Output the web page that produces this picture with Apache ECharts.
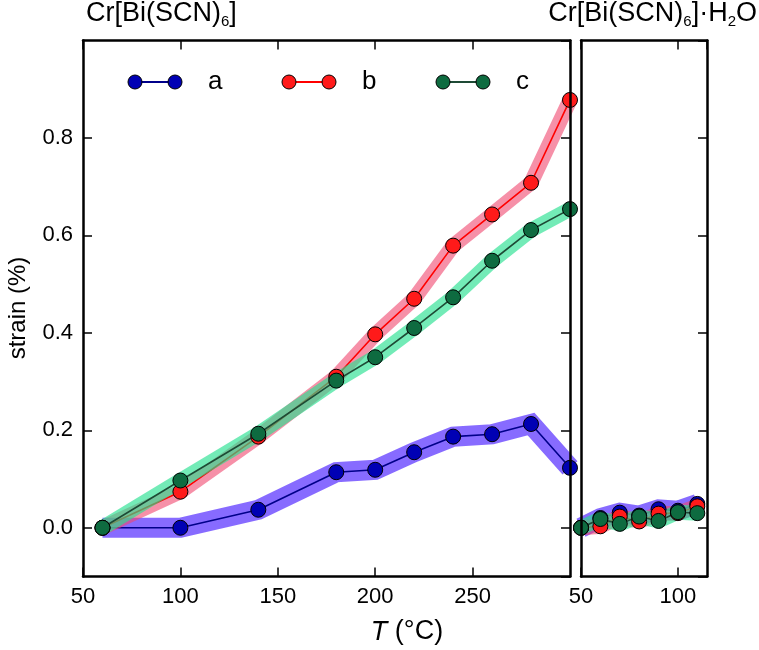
<!DOCTYPE html>
<html>
<head>
<meta charset="utf-8">
<script src="https://cdn.jsdelivr.net/npm/echarts@6/dist/echarts.min.js"></script>
<style>html,body{margin:0;padding:0;background:#fff}#c{width:759px;height:650px}</style>
</head>
<body>
<div id="c"></div>
<script>
// ---- data ----
const seriesNames = ['a', 'b', 'c'];
const T_left = [60, 100, 140, 180, 200, 220, 240, 260, 280, 300];
const a_left = [0, 0, 0.037, 0.114, 0.119, 0.155, 0.187, 0.192, 0.213, 0.123];
const b_left = [0, 0.074, 0.187, 0.31, 0.397, 0.47, 0.579, 0.643, 0.708, 0.878];
const c_left = [0, 0.097, 0.193, 0.302, 0.35, 0.41, 0.473, 0.548, 0.611, 0.654];
const T_right = [50, 60, 70, 80, 90, 100, 110];
const a_right = [0, 0.02, 0.031, 0.025, 0.038, 0.035, 0.049];
const b_right = [0, 0.003, 0.023, 0.013, 0.029, 0.03, 0.044];
const c_right = [0, 0.018, 0.008, 0.023, 0.014, 0.032, 0.03];
const titleLeft = ['Cr[Bi(SCN)', '6', ']'];
const titleRight = ['Cr[Bi(SCN)', '6', ']·H', '2', 'O'];
const yName = 'strain (%)';

// ---- styles ----
const FONT = '"Liberation Sans", Arial, Helvetica, sans-serif';
const markerColors = ['#0000b4', '#ff1a1a', '#0e6b40'];
const lineColors = ['#00008a', '#ff0000', '#1e4a35'];
const bandColors = ['rgba(105,70,255,0.8)', 'rgba(240,70,110,0.6)', 'rgba(40,225,145,0.65)'];
const bandWidths = [20, 15, 15];

function pairs(xs, ys) { return xs.map((x, i) => [x, ys[i]]); }
const leftData = [a_left, b_left, c_left];
const rightData = [a_right, b_right, c_right];

const series = [];
function addPanel(xs, dataSets, axisIdx) {
  dataSets.forEach((ys, k) => {
    series.push({
      type: 'line', name: seriesNames[k] + '_band', xAxisIndex: axisIdx, yAxisIndex: axisIdx,
      data: pairs(xs, ys), symbol: 'none', silent: true, clip: true,
      lineStyle: { color: bandColors[k], width: bandWidths[k], join: 'miter', cap: 'butt' },
      z: 2
    });
    series.push({
      type: 'line', name: seriesNames[k], xAxisIndex: axisIdx, yAxisIndex: axisIdx,
      data: pairs(xs, ys), symbol: 'circle', symbolSize: 15, clip: true,
      lineStyle: { color: lineColors[k], width: 1.6 },
      itemStyle: { color: markerColors[k], borderColor: '#000', borderWidth: 1 },
      z: 2
    });
  });
}
addPanel(T_left, leftData, 0);
addPanel(T_right, rightData, 2);

const G0 = { left: 83, top: 40.5, width: 487, height: 536, containLabel: false, outerBoundsMode: 'none' };
const G1 = { left: 581, top: 40.5, width: 126, height: 536, containLabel: false, outerBoundsMode: 'none' };

const frameLine = { show: true, onZero: false, lineStyle: { color: '#000', width: 2.5 } };
const tickIn = { show: true, inside: true, length: 9, lineStyle: { color: '#000', width: 1.5 } };
const noLabel = { show: false };
const lab = { color: '#000', fontSize: 22, fontFamily: FONT, margin: 9 };

function xAx(grid, pos, min, max, showLab) {
  return {
    type: 'value', gridIndex: grid, position: pos, min: min, max: max, interval: 50,
    axisLine: frameLine, axisTick: tickIn, splitLine: { show: false }, z: 10,
    axisLabel: showLab ? Object.assign({ showMaxLabel: false }, lab) : noLabel
  };
}
function yAx(grid, pos, showLab, showTick) {
  return {
    type: 'value', gridIndex: grid, position: pos, min: -0.1, max: 1.0, splitNumber: 5,
    axisLine: frameLine, axisTick: showTick ? tickIn : { show: false }, splitLine: { show: false }, z: 10,
    axisLabel: showLab ? Object.assign({ showMinLabel: false, showMaxLabel: false,
      formatter: v => v.toFixed(1) }, lab, { margin: 10 }) : noLabel
  };
}

// legend graphics
const graphics = [];
seriesNames.forEach((n, k) => {
  const x0 = 135 + k * 154, y0 = 82;
  graphics.push({ type: 'line', shape: { x1: x0, y1: y0, x2: x0 + 40, y2: y0 },
    style: { stroke: lineColors[k], lineWidth: 2 }, z: 20 });
  [x0, x0 + 40].forEach(cx => graphics.push({ type: 'circle', shape: { cx: cx, cy: y0, r: 7 },
    style: { fill: markerColors[k], stroke: '#000', lineWidth: 1 }, z: 21 }));
  graphics.push({ type: 'text', x: x0 + 73, y: y0, z: 21,
    style: { text: n, fill: '#000', fontSize: 26, fontFamily: FONT, align: 'left', verticalAlign: 'middle' } });
});
// x axis title
graphics.push({ type: 'text', x: 407, y: 632, z: 21,
  style: { text: '{i|T} (°C)', fill: '#000', fontSize: 27, fontFamily: FONT, align: 'center', verticalAlign: 'middle',
    rich: { i: { fontStyle: 'italic', fontSize: 27, fontFamily: FONT, fill: '#000' } } } });
// y axis title
graphics.push({ type: 'text', x: 18, y: 308, rotation: Math.PI / 2, z: 21,
  style: { text: yName, fill: '#000', fontSize: 24, fontFamily: FONT, align: 'center', verticalAlign: 'middle' } });

function titleText(parts) {
  return parts.map((p, i) => (i % 2 === 0 ? '{n|' : '{s|') + p + '}').join('');
}
const titleRich = {
  n: { fontSize: 27, fontFamily: FONT, fontWeight: 'normal', color: '#000', verticalAlign: 'top', lineHeight: 30 },
  s: { fontSize: 15, fontFamily: FONT, fontWeight: 'normal', color: '#000', verticalAlign: 'top', lineHeight: 30, padding: [14, 0, 0, 0] }
};

const option = {
  animation: false,
  backgroundColor: '#fff',
  title: [
    { text: titleText(titleLeft), left: 86, top: 0, padding: 0, textStyle: { fontWeight: 'normal', rich: titleRich } },
    { text: titleText(titleRight), right: 2, top: 0, padding: 0, textStyle: { fontWeight: 'normal', rich: titleRich } }
  ],
  grid: [G0, G1],
  xAxis: [xAx(0, 'bottom', 50, 300, true), xAx(0, 'top', 50, 300, false),
          xAx(1, 'bottom', 50, 115, true), xAx(1, 'top', 50, 115, false)],
  yAxis: [yAx(0, 'left', true, true), yAx(0, 'right', false, true),
          yAx(1, 'right', false, true), yAx(1, 'left', false, false)],
  series: series,
  graphic: graphics
};
const chart = echarts.init(document.getElementById('c'), null, { renderer: 'canvas' });
chart.setOption(option);
</script>
</body>
</html>
